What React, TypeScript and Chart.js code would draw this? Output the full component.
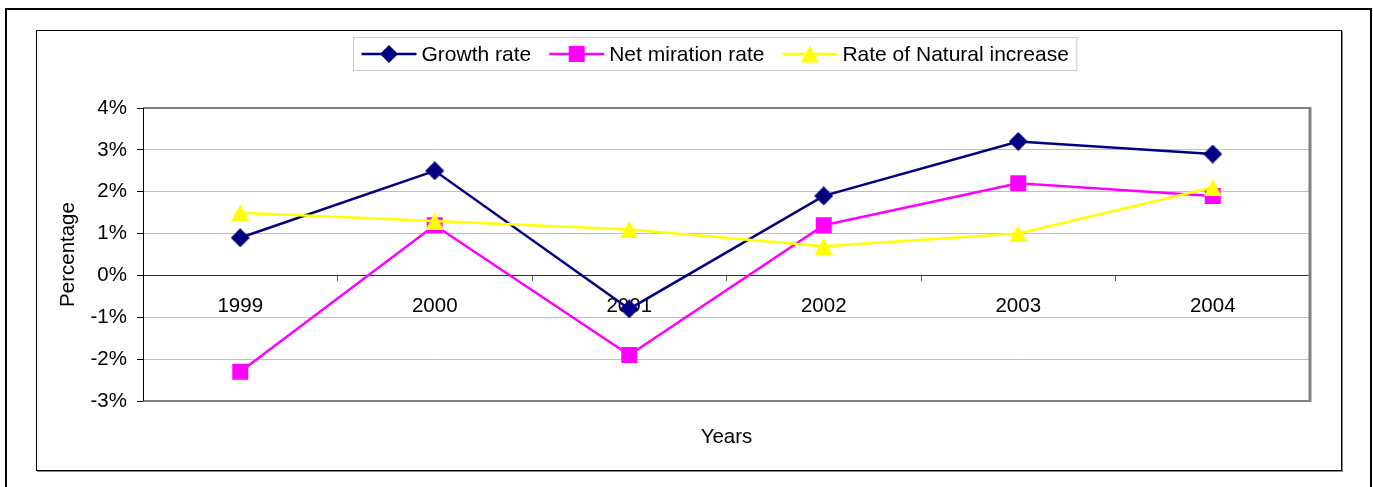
import React, { useEffect, useRef } from "react";
import { Chart, registerables } from "chart.js";

Chart.register(...registerables);

const years = ["1999", "2000", "2001", "2002", "2003", "2004"];
const growthRate = [0.9, 2.5, -0.8, 1.9, 3.2, 2.9];
const netMigrationRate = [-2.3, 1.2, -1.9, 1.2, 2.2, 1.9];
const naturalIncrease = [1.5, 1.3, 1.1, 0.7, 1.0, 2.1];
const seriesLabels = ["Growth rate", "Net miration rate", "Rate of Natural increase"];
const yMin = -3;
const yMax = 4;
const yStep = 1;
const xTitle = "Years";
const yTitle = "Percentage";

const FONT = "'Liberation Sans', Arial, sans-serif";
const NAVY = "#000080";
const MAGENTA = "#FF00FF";
const YELLOW = "#FFFF00";

function makeTriangle(color: string, w: number, h: number): HTMLCanvasElement {
  const c = document.createElement("canvas");
  c.width = w;
  c.height = h;
  const ctx = c.getContext("2d")!;
  ctx.fillStyle = color;
  ctx.beginPath();
  ctx.moveTo(w / 2, 0);
  ctx.lineTo(w, h);
  ctx.lineTo(0, h);
  ctx.closePath();
  ctx.fill();
  return c;
}

function makeDiamond(color: string, s: number): HTMLCanvasElement {
  const c = document.createElement("canvas");
  c.width = s;
  c.height = s;
  const ctx = c.getContext("2d")!;
  ctx.fillStyle = color;
  ctx.beginPath();
  ctx.moveTo(s / 2, 0);
  ctx.lineTo(s, s / 2);
  ctx.lineTo(s / 2, s);
  ctx.lineTo(0, s / 2);
  ctx.closePath();
  ctx.fill();
  return c;
}

function drawMarker(ctx: CanvasRenderingContext2D, kind: string, color: string, x: number, y: number) {
  ctx.save();
  ctx.fillStyle = color;
  ctx.beginPath();
  if (kind === "diamond") {
    const r = 9;
    ctx.moveTo(x - r, y);
    ctx.lineTo(x, y - r);
    ctx.lineTo(x + r, y);
    ctx.lineTo(x, y + r);
  } else if (kind === "square") {
    const s = 8;
    ctx.rect(x - s, y - s, 2 * s, 2 * s);
  } else {
    ctx.moveTo(x, y - 8.5);
    ctx.lineTo(x + 9, y + 8.5);
    ctx.lineTo(x - 9, y + 8.5);
  }
  ctx.closePath();
  ctx.fill();
  ctx.restore();
}

const markerKinds = ["diamond", "square", "triangle"];
const markerColors = [NAVY, MAGENTA, YELLOW];

const excelPlugin = {
  id: "excelDecor",
  beforeDatasetsDraw(chart: any) {
    const { ctx, chartArea } = chart;
    const { left, top, right, bottom } = chartArea;
    ctx.save();
    ctx.strokeStyle = "#808080";
    ctx.lineWidth = 2;
    ctx.beginPath();
    ctx.moveTo(left, top);
    ctx.lineTo(right, top);
    ctx.moveTo(left, bottom);
    ctx.lineTo(right, bottom);
    ctx.stroke();
    ctx.lineWidth = 3;
    ctx.beginPath();
    ctx.moveTo(right, top - 1);
    ctx.lineTo(right, bottom + 1);
    ctx.stroke();
    ctx.strokeStyle = "#000";
    ctx.lineWidth = 1;
    ctx.beginPath();
    ctx.moveTo(left + 0.5, top);
    ctx.lineTo(left + 0.5, bottom);
    ctx.stroke();
    ctx.restore();
  },
  afterDraw(chart: any) {
    const { ctx, chartArea } = chart;
    ctx.save();
    ctx.font = `20.5px ${FONT}`;
    ctx.fillStyle = "#000";
    ctx.textAlign = "center";
    ctx.textBaseline = "middle";
    ctx.fillText(xTitle, (chartArea.left + chartArea.right) / 2, 406);

    ctx.font = `21px ${FONT}`;
    const lineLen = 55;
    const gapText = 5;
    const gapItems = 18;
    const pad = 8;
    const widths = chart.data.datasets.map((d: any) => ctx.measureText(d.label).width);
    let total = pad * 2;
    widths.forEach((w: number, i: number) => {
      total += lineLen + gapText + w + (i > 0 ? gapItems : 0);
    });
    const cx = 677.5;
    const boxTop = 6;
    const boxH = 33;
    const boxLeft = Math.round(cx - total / 2) + 0.5;
    ctx.strokeStyle = "#c8c8c8";
    ctx.lineWidth = 1;
    ctx.fillStyle = "#fff";
    ctx.fillRect(boxLeft, boxTop + 0.5, total, boxH);
    ctx.strokeRect(boxLeft, boxTop + 0.5, total, boxH);
    const cy = boxTop + boxH / 2 + 0.5;
    let x = boxLeft + pad;
    chart.data.datasets.forEach((d: any, i: number) => {
      ctx.strokeStyle = d.borderColor;
      ctx.lineWidth = 2.5;
      ctx.beginPath();
      ctx.moveTo(x, cy);
      ctx.lineTo(x + lineLen, cy);
      ctx.stroke();
      drawMarker(ctx, markerKinds[i], markerColors[i], x + lineLen / 2, cy);
      x += lineLen + gapText;
      ctx.fillStyle = "#000";
      ctx.textAlign = "left";
      ctx.textBaseline = "middle";
      ctx.fillText(d.label, x, cy + 1);
      x += widths[i] + gapItems;
    });
    ctx.restore();
  },
};

export default function App() {
  const canvasRef = useRef<HTMLCanvasElement | null>(null);

  useEffect(() => {
    const canvas = canvasRef.current;
    if (!canvas) return;
    const tri = makeTriangle(YELLOW, 18, 17);
    const dia = makeDiamond(NAVY, 19);
    const chart = new Chart(canvas, {
      type: "line",
      data: {
        labels: years,
        datasets: [
          {
            label: seriesLabels[0],
            data: growthRate,
            borderColor: NAVY,
            backgroundColor: NAVY,
            borderWidth: 2.5,
            pointStyle: dia as any,
            pointRadius: 10,
            pointBorderWidth: 0,
            order: 3,
          },
          {
            label: seriesLabels[1],
            data: netMigrationRate,
            borderColor: MAGENTA,
            backgroundColor: MAGENTA,
            borderWidth: 2.5,
            pointStyle: "rect",
            pointRadius: 11.3,
            pointBorderWidth: 0,
            order: 2,
          },
          {
            label: seriesLabels[2],
            data: naturalIncrease,
            borderColor: YELLOW,
            backgroundColor: YELLOW,
            borderWidth: 2.5,
            pointStyle: tri as any,
            pointRadius: 9,
            pointBorderWidth: 0,
            order: 1,
          },
        ],
      },
      options: {
        responsive: false,
        animation: false,
        events: [],
        layout: { padding: { top: 77, bottom: 69, right: 31, left: 0 } },
        plugins: {
          legend: { display: false },
          tooltip: { enabled: false },
          title: { display: false },
        },
        scales: {
          x: {
            type: "category",
            position: { y: 0 } as any,
            offset: true,
            grid: {
              offset: true,
              drawOnChartArea: false,
              drawTicks: true,
              tickLength: 5,
              tickColor: "#606060",
              color: "#606060",
            },
            border: { display: true, color: "#303030", width: 1 },
            ticks: {
              color: "#000",
              font: { family: FONT, size: 20.5 },
              padding: 14,
              maxRotation: 0,
              autoSkip: false,
            },
          },
          y: {
            type: "linear",
            position: "left",
            min: yMin,
            max: yMax,
            afterFit: (s: any) => {
              s.width = 106;
            },
            grid: {
              color: "#c0c0c0",
              lineWidth: 1,
              drawTicks: true,
              tickLength: 6,
              tickColor: "#000",
            },
            border: { display: true, color: "#000", width: 1 },
            ticks: {
              stepSize: yStep,
              color: "#000",
              padding: 10,
              font: { family: FONT, size: 20.5 },
              callback: (v: any) => `${v}%`,
            },
            title: {
              display: true,
              text: yTitle,
              color: "#000",
              font: { family: FONT, size: 20.5 },
              padding: { top: 19, bottom: 0 },
            },
          },
        },
      },
      plugins: [excelPlugin],
    });
    return () => chart.destroy();
  }, []);

  return (
    <div
      style={{
        position: "fixed",
        left: 0,
        top: 0,
        width: 1373,
        height: 487,
        overflow: "hidden",
        background: "#fff",
      }}
    >
      <div
        style={{
          position: "absolute",
          left: 5,
          top: 8,
          width: 1367,
          height: 500,
          boxSizing: "border-box",
          border: "2px solid #000",
        }}
      />
      <div
        style={{
          position: "absolute",
          left: 36,
          top: 30,
          width: 1306,
          height: 441,
          boxSizing: "border-box",
          border: "1px solid #000",
          boxShadow: "1px 1px 0 #888",
        }}
      />
      <canvas
        ref={canvasRef}
        width={1304}
        height={439}
        style={{ position: "absolute", left: 37, top: 31, width: 1304, height: 439 }}
      />
    </div>
  );
}
